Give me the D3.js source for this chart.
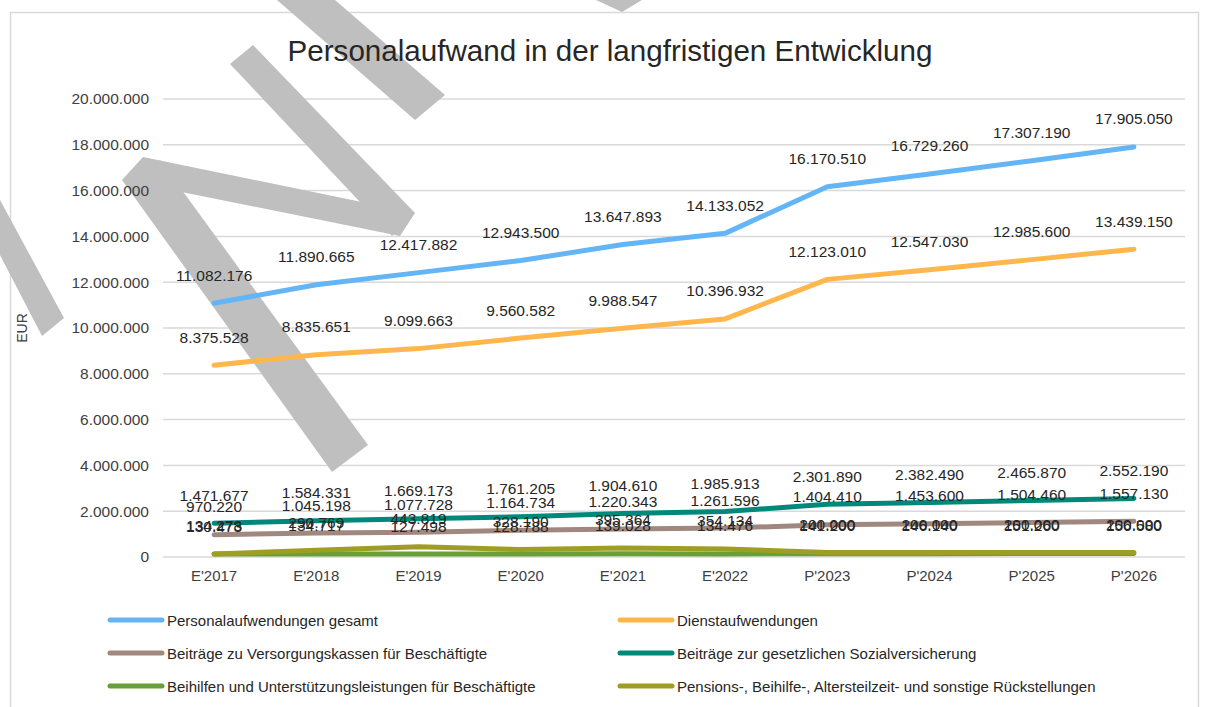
<!DOCTYPE html>
<html>
<head>
<meta charset="utf-8">
<script src="https://cdn.jsdelivr.net/npm/d3@7"></script>
<style>
  body { margin: 0; background: #fff; }
  svg text { font-family: "Liberation Sans", Arial, sans-serif; }
</style>
</head>
<body>
<svg id="chart" width="1209" height="707"></svg>
<script>
// categories and values
var categories = ["E'2017", "E'2018", "E'2019", "E'2020", "E'2021", "E'2022", "P'2023", "P'2024", "P'2025", "P'2026"];

var personalGesamt = [11082176, 11890665, 12417882, 12943500, 13647893, 14133052, 16170510, 16729260, 17307190, 17905050];
var dienstaufwendungen = [8375528, 8835651, 9099663, 9560582, 9988547, 10396932, 12123010, 12547030, 12985600, 13439150];
var versorgungskassen = [970220, 1045198, 1077728, 1164734, 1220343, 1261596, 1404410, 1453600, 1504460, 1557130];
var sozialversicherung = [1471677, 1584331, 1669173, 1761205, 1904610, 1985913, 2301890, 2382490, 2465870, 2552190];
var beihilfen = [134278, 134717, 127498, 128788, 139028, 134476, 141200, 146140, 151260, 156580];
var rueckstellungen = [130473, 290769, 443819, 328190, 395364, 354134, 200000, 200000, 200000, 200000];

var yTicks = [0, 2000000, 4000000, 6000000, 8000000, 10000000, 12000000, 14000000, 16000000, 18000000, 20000000];

var series = [
  {name: "Personalaufwendungen gesamt", values: personalGesamt, color: "#64b5f6"},
  {name: "Dienstaufwendungen", values: dienstaufwendungen, color: "#ffb74d"},
  {name: "Beiträge zu Versorgungskassen für Beschäftigte", values: versorgungskassen, color: "#a1887f"},
  {name: "Beiträge zur gesetzlichen Sozialversicherung", values: sozialversicherung, color: "#00897b"},
  {name: "Beihilfen und Unterstützungsleistungen für Beschäftigte", values: beihilfen, color: "#689f38"},
  {name: "Pensions-, Beihilfe-, Altersteilzeit- und sonstige Rückstellungen", values: rueckstellungen, color: "#9e9d24"}
];

var de = d3.formatLocale({decimal: ",", thousands: ".", grouping: [3], currency: ["", " €"]});
var fmt = de.format(",.0f");

var svg = d3.select("#chart");

svg.append("rect").attr("x", 10.5).attr("y", 12.5).attr("width", 1188).attr("height", 700)
  .attr("fill", "#fff").attr("stroke", "#d9d9d9").attr("stroke-width", 1.5);

var x = d3.scaleBand().domain(categories).range([163, 1185]);
var y = d3.scaleLinear().domain([0, 20000000]).range([557, 99]);

// gridlines
svg.append("g").selectAll("line").data(yTicks).enter().append("line")
  .attr("x1", 163).attr("x2", 1185)
  .attr("y1", function(d) { return y(d); }).attr("y2", function(d) { return y(d); })
  .attr("stroke", "#d9d9d9").attr("stroke-width", 1.5);

// watermark strokes (draft stamp)
var wm = [
  [[0, 200], [0, 255], [42, 336], [64, 318]],
  [[122, 180], [160, 160], [368, 445], [332, 472]],
  [[122, 180], [143, 157], [415, 213], [400, 236]],
  [[230, 64], [253, 45], [415, 213], [392, 236]],
  [[277, 0], [335, 0], [445, 95], [415, 120]],
  [[596, 0], [642, 0], [622, 12]]
];
svg.append("g").selectAll("path").data(wm).enter().append("path")
  .attr("d", function(d) { return "M" + d.join("L") + "Z"; })
  .attr("fill", "#bfbfbf");

// y axis
var yAxis = d3.axisLeft(y).tickValues(yTicks).tickFormat(fmt).tickSize(0).tickPadding(14);
var ga = svg.append("g").attr("transform", "translate(163,0)").call(yAxis);
ga.select(".domain").remove();
ga.selectAll("text").attr("font-size", 15.5).attr("fill", "#404040")
  .attr("font-family", "Liberation Sans, Arial, sans-serif");

// x axis
var xAxis = d3.axisBottom(x).tickSize(0).tickPadding(13);
var gx = svg.append("g").attr("transform", "translate(0,557)").call(xAxis);
gx.select(".domain").remove();
gx.selectAll("text").attr("font-size", 15).attr("fill", "#404040")
  .attr("font-family", "Liberation Sans, Arial, sans-serif");

svg.append("text").attr("transform", "translate(27,328) rotate(-90)")
  .attr("text-anchor", "middle").attr("font-size", 14).attr("fill", "#404040").text("EUR");

svg.append("text").attr("x", 610).attr("y", 61).attr("text-anchor", "middle")
  .attr("font-size", 29.6).attr("fill", "#262626").text("Personalaufwand in der langfristigen Entwicklung");

var line = d3.line()
  .x(function(d, i) { return x(categories[i]) + x.bandwidth() / 2; })
  .y(function(d) { return y(d); });

svg.append("g").selectAll("path").data(series).enter().append("path")
  .attr("d", function(s) { return line(s.values); })
  .attr("fill", "none").attr("stroke", function(s) { return s.color; })
  .attr("stroke-width", 5).attr("stroke-linecap", "round").attr("stroke-linejoin", "round");

// data labels above points
series.forEach(function(s) {
  svg.append("g").selectAll("text").data(s.values).enter().append("text")
    .attr("x", function(d, i) { return x(categories[i]) + x.bandwidth() / 2; })
    .attr("y", function(d) { return y(d) - 22.5; })
    .attr("text-anchor", "middle").attr("font-size", 15.5).attr("fill", "#262626")
    .text(function(d) { return fmt(d); });
});

// legend, two columns
var leg = svg.append("g").selectAll("g").data(series).enter().append("g")
  .attr("transform", function(s, i) { return "translate(" + (i % 2 ? 620 : 110) + "," + (620 + Math.floor(i / 2) * 33) + ")"; });
leg.append("line").attr("x1", 0).attr("x2", 52).attr("y1", 0).attr("y2", 0)
  .attr("stroke", function(s) { return s.color; }).attr("stroke-width", 5).attr("stroke-linecap", "round");
leg.append("text").attr("x", 57).attr("y", 5.5).attr("font-size", 15).attr("fill", "#262626")
  .text(function(s) { return s.name; });
</script>
</body>
</html>
